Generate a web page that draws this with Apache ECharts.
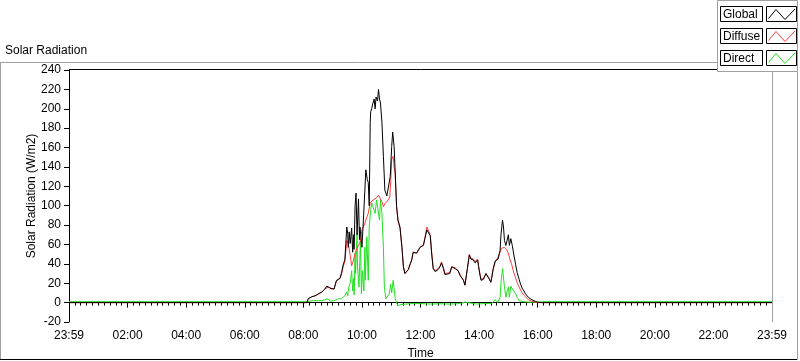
<!DOCTYPE html>
<html>
<head>
<meta charset="utf-8">
<script src="https://cdn.jsdelivr.net/npm/echarts@6/dist/echarts.min.js"></script>
<style>
html,body{margin:0;padding:0;background:#fff;}
#c{width:800px;height:361px;}
</style>
</head>
<body>
<div id="c"></div>
<script>
// time in minutes from the start of the day
var xTicks = [0,120,240,360,480,600,720,840,960,1080,1200,1320,1440];
var xTickLabels = ['23:59','02:00','04:00','06:00','08:00','10:00','12:00','14:00','16:00','18:00','20:00','22:00','23:59'];
var seriesNames = ['Global','Diffuse','Direct'];

var globalT = [0,487,490,497,504,511,518,524,528,531,535,538,543,546,548,552,555,558,562,565,567,569,571,572,574,576,579,581,583,584,586,588,590,593,595,596,600,603,606,608,611,613,615,617,618,620,622,625,627,629,632,634,636,638,641,644,647,651,654,658,661,663,666,668,671,674,678,682,685,688,692,695,699,702,705,709,712,715,719,722,726,729,733,736,740,743,746,750,753,756,760,763,767,770,774,780,784,791,794,797,801,804,808,811,813,816,818,820,823,825,828,832,835,837,839,842,844,849,854,857,861,864,866,869,873,876,879,883,885,888,890,892,895,897,900,902,905,907,908,912,915,918,922,925,928,932,935,941,948,955,961,970,1440];
var globalV = [0,0,4,6,7,9,11,14,17,16,15,14,14,20,23,25,25,30,40,44,61,78,71,57,73,61,77,52,70,55,100,113,70,107,65,78,57,85,116,137,127,124,100,186,197,200,205,210,200,212,208,220,210,206,186,151,116,110,111,130,161,176,161,137,99,85,78,57,37,30,29,34,40,44,52,53,51,49,57,57,59,66,75,77,69,50,35,32,34,34,37,41,35,29,28,30,37,35,35,33,28,26,23,18,18,35,42,49,45,43,44,41,42,44,37,28,23,24,30,31,24,21,26,35,43,45,45,54,71,85,78,64,59,61,70,59,66,64,59,47,39,31,24,19,15,12,9,5.5,3,1.4,0.3,0,0];

var diffuseT = [0,487,490,497,504,511,518,524,528,531,535,538,543,546,548,552,555,558,562,565,569,572,576,579,581,583,586,590,593,596,600,603,606,610,613,617,620,623,627,630,634,637,641,644,647,651,654,657,659,661,664,666,668,671,674,678,682,685,688,692,695,699,702,705,709,712,715,719,722,726,729,733,736,740,743,746,750,753,756,760,763,767,770,774,780,784,791,794,797,801,804,808,811,813,816,818,820,823,825,828,832,835,837,839,842,844,849,854,857,861,864,866,869,873,876,879,883,886,890,892,897,900,903,907,910,913,917,920,924,927,931,934,941,948,955,961,1440];
var diffuseV = [0,0,4,6,7,9,11,14,16,16,15,14,14,19,22,24,25,29,38,42,64,61,49,38,40,44,51,56,59,62,75,78,82,88,92,103,104,106,106,108,111,108,104,99,102,104,106,109,125,148,151,140,134,99,84,77,57,37,30,29,34,40,44,52,54,51,50,57,58,60,67,78,78,70,51,36,33,34,35,38,42,36,30,29,31,37,36,36,33,29,27,23,18,18,35,43,50,46,44,45,42,43,45,38,29,24,25,30,31,25,21,26,35,42,44,47,52,56,56,57,54,51,45,39,33,28,22,18,14,11,8,6,3,1.5,0.5,0,0];

var directT = [0,487,490,497,504,511,518,524,528,531,535,543,552,558,562,565,569,571,573,576,579,581,583,584,586,587,590,591,594,597,599,601,604,606,607,610,613,615,618,620,623,627,630,634,636,638,641,644,646,649,652,656,659,661,664,666,668,671,674,680,690,700,720,740,760,780,800,811,815,835,850,866,873,876,878,883,885,888,890,892,895,897,900,902,905,908,912,915,918,922,925,930,940,960,970,1440];
var directV = [1,1,1.5,2,2,2,2,3,4,4,1.5,2,4,4,5.5,7,11,7,16,20,33,12,25,8,51,30,71,37,16,64,9,33,12,57,23,68,23,78,96,103,103,92,106,108,85,106,92,57,16,4,2,9,19,10,23,14,5,0,-3,-2,-1.5,-1,-1,-1.5,-1.2,-1.5,-1,0.5,-1,-1.5,-1,-1,3,4,0,5.5,21,35,34,16,5.5,11,16,5.5,17,14,12,9,5.5,2,1.4,1,0.5,0.5,1,1];

(function () {
  function zip(t, v) { var out = []; for (var i = 0; i < t.length; i++) out.push([t[i], v[i]]); return out; }

  var FONT = 'Liberation Sans';
  var chart = echarts.init(document.getElementById('c'), null, {renderer: 'canvas'});

  var legendColors = ['#000000', '#ff3c3c', '#22e022'];
  var graphics = [
    {type:'line', shape:{x1:0, y1:62.5, x2:717, y2:62.5}, style:{stroke:'#a0a0a0', lineWidth:1}, silent:true},
    {type:'line', shape:{x1:0.5, y1:62, x2:0.5, y2:359}, style:{stroke:'#a0a0a0', lineWidth:1}, silent:true},
    {type:'line', shape:{x1:0, y1:359.5, x2:798, y2:359.5}, style:{stroke:'#000', lineWidth:1}, silent:true},
    {type:'line', shape:{x1:797.5, y1:72, x2:797.5, y2:360}, style:{stroke:'#a0a0a0', lineWidth:1}, silent:true},
    {type:'line', shape:{x1:69, y1:69.5, x2:772, y2:69.5}, style:{stroke:'#000', lineWidth:1}, silent:true, z:10},
    {type:'line', shape:{x1:772.5, y1:70, x2:772.5, y2:322}, style:{stroke:'#a0a0a0', lineWidth:1}, silent:true, z:10},
    {type:'text', x:5, y:51, style:{text:'Solar Radiation', font:'12px ' + FONT, fill:'#000', verticalAlign:'middle'}, silent:true},
    {type:'rect', shape:{x:717.5, y:0.5, width:80, height:71}, style:{fill:'#fff', stroke:'#a0a0a0', lineWidth:1}, silent:true, z:20}
  ];
  for (var i = 0; i < seriesNames.length; i++) {
    var rowTop = 6.5 + i * 22;
    graphics.push({type:'rect', shape:{x:720.5, y:rowTop, width:42, height:15}, style:{fill:'#fff', stroke:'#000', lineWidth:1}, silent:true, z:21});
    graphics.push({type:'text', x:723, y:rowTop + 8, style:{text:seriesNames[i], font:'12px ' + FONT, fill:'#000', verticalAlign:'middle'}, silent:true, z:22});
    graphics.push({type:'rect', shape:{x:766.5, y:rowTop, width:30, height:15}, style:{fill:'#fff', stroke:'#000', lineWidth:1}, silent:true, z:21});
    graphics.push({type:'polyline', shape:{points:[[768.5, rowTop+12], [776, rowTop+3], [785, rowTop+13], [795, rowTop+2.5]]}, style:{stroke:legendColors[i], lineWidth:1, fill:null}, silent:true, z:22});
  }

  var option = {
    animation: false,
    backgroundColor: '#fff',
    textStyle: {fontFamily: FONT},
    grid: {left: 69, top: 70, width: 703, height: 252, containLabel: false, outerBoundsMode: 'none'},
    xAxis: {
      type: 'value', min: 0, max: 1440, interval: 120,
      name: 'Time', nameLocation: 'middle', nameGap: 26, nameMoveOverlap: false,
      nameTextStyle: {fontSize: 12, color: '#000', fontFamily: FONT},
      axisLine: {show: true, lineStyle: {color: '#000', width: 1}},
      axisTick: {show: true, length: 5, inside: false, lineStyle: {color: '#000'}},
      minorTick: {show: true, splitNumber: 10, length: 3, lineStyle: {color: '#000'}},
      axisLabel: {
        fontSize: 12, color: '#000', fontFamily: FONT, margin: 8,
        formatter: function (v) { var k = xTicks.indexOf(v); return k >= 0 ? xTickLabels[k] : ''; }
      },
      splitLine: {show: false}
    },
    yAxis: {
      type: 'value', min: -20, max: 240, interval: 20,
      name: 'Solar Radiation (W/m2)', nameLocation: 'middle', nameGap: 31, nameRotate: 90, nameMoveOverlap: false,
      nameTextStyle: {fontSize: 12, color: '#000', fontFamily: FONT},
      axisLine: {show: true, onZero: false, lineStyle: {color: '#000', width: 1}},
      axisTick: {show: true, length: 5, inside: false, lineStyle: {color: '#000'}},
      axisLabel: {fontSize: 12, color: '#000', fontFamily: FONT, margin: 8},
      splitLine: {show: false}
    },
    series: [
      {name: seriesNames[2], type: 'line', data: zip(directT, directV), showSymbol: false, symbol: 'none',
       lineStyle: {color: legendColors[2], width: 1}, z: 2},
      {name: seriesNames[1], type: 'line', data: zip(diffuseT, diffuseV), showSymbol: false, symbol: 'none',
       lineStyle: {color: legendColors[1], width: 1}, z: 3},
      {name: seriesNames[0], type: 'line', data: zip(globalT, globalV), showSymbol: false, symbol: 'none',
       lineStyle: {color: legendColors[0], width: 1}, z: 4}
    ],
    graphic: graphics
  };
  chart.setOption(option);
})();
</script>
</body>
</html>
